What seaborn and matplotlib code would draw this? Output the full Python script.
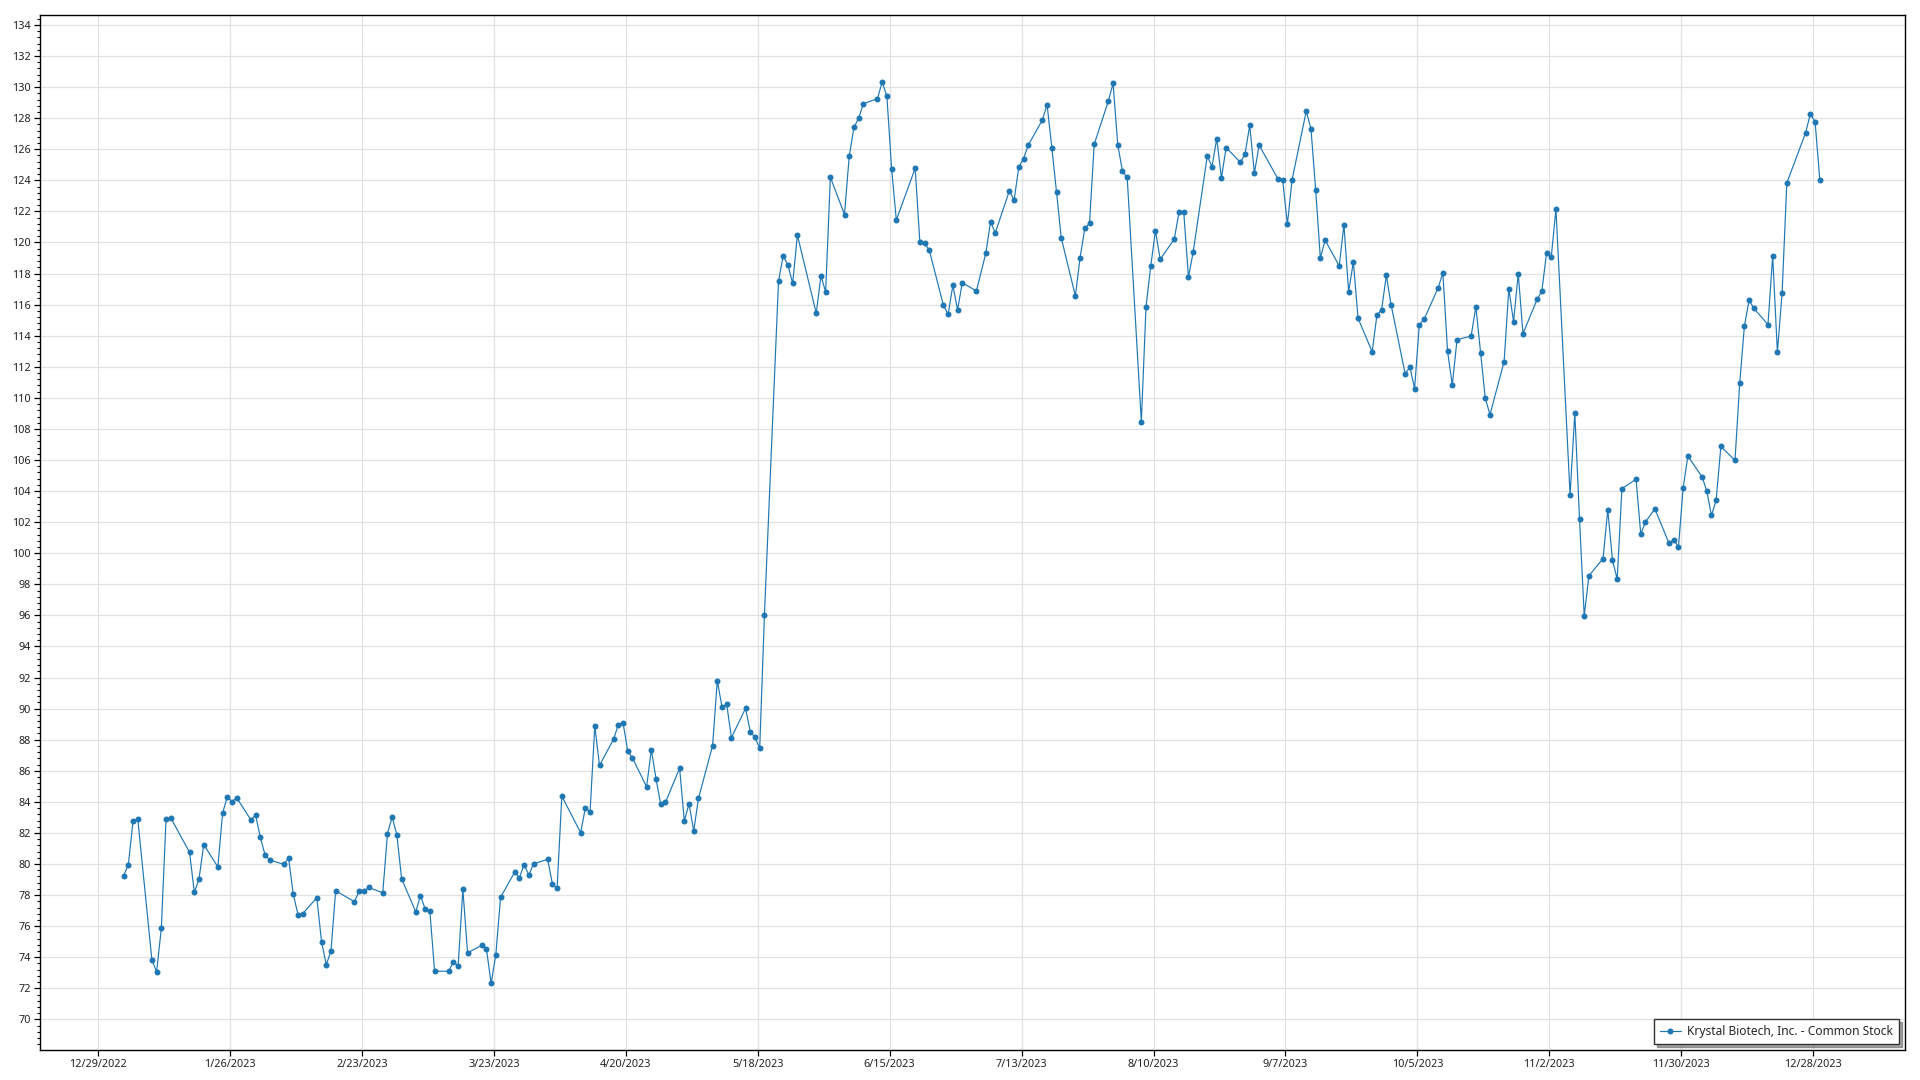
import matplotlib
matplotlib.use("Agg")
import numpy as np
import pandas as pd
import seaborn as sns
import matplotlib.pyplot as plt
from matplotlib.ticker import MultipleLocator, AutoMinorLocator, FixedLocator, FixedFormatter

# ---------------- data ----------------
series_name = "Krystal Biotech, Inc. - Common Stock"
market_holidays = ["2023-01-02", "2023-01-16", "2023-02-20", "2023-04-07", "2023-05-29",
                   "2023-06-19", "2023-07-04", "2023-09-04", "2023-11-23", "2023-12-25"]

jan = [79.25, 79.96, 82.77, 82.90, 73.83, 73.05, 75.87, 82.88, 82.97, 80.75,
       78.17, 79.03, 81.25, 79.81, 83.27, 84.32, 84.02, 84.26, 82.84, 83.16]
feb = [81.74, 80.60, 80.26, 79.98, 80.39, 78.06, 76.75, 76.80, 77.83, 75.01,
       73.53, 74.37, 78.28, 77.57, 78.26, 78.26, 78.49, 78.15, 81.96]
mar = [83.03, 81.85, 79.05, 76.92, 77.97, 77.10, 76.95, 73.10, 73.10, 73.72,
       73.44, 78.37, 74.28, 74.77, 74.54, 72.32, 74.17, 77.85, 79.48, 79.12,
       79.96, 79.29, 80.02]
apr = [80.30, 78.73, 78.43, 84.37, 82.02, 83.61, 83.35, 88.90, 86.34, 88.04,
       88.97, 89.08, 87.25, 86.82, 84.97, 87.35, 85.48, 83.83, 83.96]
may = [86.17, 82.77, 83.87, 82.13, 84.22, 87.61, 91.80, 90.11, 90.28, 88.13,
       90.02, 88.52, 88.15, 87.44, 96.00, 117.53, 119.15, 118.53, 117.38, 120.48,
       115.45, 117.86]
jun = [116.81, 124.20, 121.80, 125.54, 127.40, 128.00, 128.93, 129.26, 130.33, 129.40,
       124.73, 121.44, 124.78, 120.00, 119.96, 119.50, 115.95, 115.38, 117.24, 115.67,
       117.41]
jul = [116.88, 119.32, 121.33, 120.62, 123.33, 122.73, 124.86, 125.40, 126.26, 127.89,
       128.86, 126.11, 123.25, 120.30, 116.56, 119.03, 120.90, 121.25, 126.32, 129.10]
aug = [130.24, 126.28, 124.58, 124.19, 108.47, 115.87, 118.49, 120.75, 118.92, 120.22,
       121.96, 121.98, 117.76, 119.38, 125.57, 124.88, 126.69, 124.15, 126.11, 125.16,
       125.68, 127.53, 124.47]
sep = [126.26, 124.09, 124.00, 121.18, 124.04, 128.45, 127.33, 123.40, 118.99, 120.15,
       118.49, 121.14, 116.82, 118.75, 115.12, 112.97, 115.33, 115.68, 117.89, 116.00]
oct_ = [111.55, 111.98, 110.60, 114.71, 115.05, 117.08, 118.04, 112.99, 110.82, 113.74,
        113.98, 115.87, 112.90, 109.98, 108.92, 112.34, 117.03, 114.90, 118.00, 114.13,
        116.34, 116.86]
nov = [119.31, 119.05, 122.15, 103.74, 109.04, 102.23, 95.98, 98.55, 99.66, 102.79,
       99.55, 98.33, 104.16, 104.76, 101.24, 102.01, 102.86, 100.64, 100.88, 100.39,
       104.23]
dec = [106.25, 104.92, 104.03, 102.43, 103.41, 106.87, 105.98, 110.93, 114.63, 116.29,
       115.76, 114.72, 119.13, 112.94, 116.76, 123.83, 127.07, 128.29, 127.76, 124.05]

tick_dates = ["2022-12-29", "2023-01-26", "2023-02-23", "2023-03-23", "2023-04-20",
              "2023-05-18", "2023-06-15", "2023-07-13", "2023-08-10", "2023-09-07",
              "2023-10-05", "2023-11-02", "2023-11-30", "2023-12-28"]
tick_labels = ["12/29/2022", "1/26/2023", "2/23/2023", "3/23/2023", "4/20/2023",
               "5/18/2023", "6/15/2023", "7/13/2023", "8/10/2023", "9/7/2023",
               "10/5/2023", "11/2/2023", "11/30/2023", "12/28/2023"]

prices = jan + feb + mar + apr + may + jun + jul + aug + sep + oct_ + nov + dec
trade_days = pd.bdate_range("2023-01-03", "2023-12-29", freq="C", holidays=market_holidays)
df = pd.DataFrame({"date": trade_days + pd.Timedelta(hours=10), "price": prices})

# ---------------- plot ----------------
sns.set_theme(style="white")
plt.rcParams["font.family"] = ["Noto Sans", "DejaVu Sans"]

fig = plt.figure(figsize=(19.2, 10.8), dpi=100, facecolor="white")
ax = fig.add_axes([40 / 1920, 30 / 1080, 1865 / 1920, 1035 / 1080])

sns.lineplot(data=df, x="date", y="price", ax=ax, color="#1f77b4", linewidth=0.85,
             marker="o", markersize=4.3, markeredgewidth=0, label=series_name)

ax.set_xlim(pd.Timestamp("2022-12-16 16:00"), pd.Timestamp("2024-01-16 12:00"))
ax.set_ylim(68.03, 134.64)

tick_pos = matplotlib.dates.date2num(pd.to_datetime(tick_dates))
ax.xaxis.set_major_locator(FixedLocator(tick_pos))
ax.xaxis.set_major_formatter(FixedFormatter(tick_labels))
ax.yaxis.set_major_locator(MultipleLocator(2))
ax.yaxis.set_minor_locator(AutoMinorLocator(5))

ax.grid(True, which="major", color="#e2e2e2", linewidth=0.9)
ax.set_axisbelow(True)
for s in ax.spines.values():
    s.set_visible(True)
    s.set_color("#000000")
    s.set_linewidth(1.0)

ax.tick_params(axis="both", which="major", direction="out", length=4.5, width=0.9,
               color="#000000", labelsize=7.8, labelcolor="#222222", pad=2,
               bottom=True, left=True)
ax.tick_params(axis="y", which="minor", direction="out", length=2.5, width=0.8,
               color="#000000", left=True)
ax.set_xlabel("")
ax.set_ylabel("")

leg = ax.legend(loc="lower right", frameon=True, fancybox=False, shadow=True,
                edgecolor="#333333", fontsize=8.6, borderaxespad=0.5,
                handlelength=1.8, handletextpad=0.5, borderpad=0.5)
leg.get_frame().set_linewidth(1.0)
leg.get_frame().set_facecolor("white")

fig.savefig("out.png", dpi=100, facecolor="white")
